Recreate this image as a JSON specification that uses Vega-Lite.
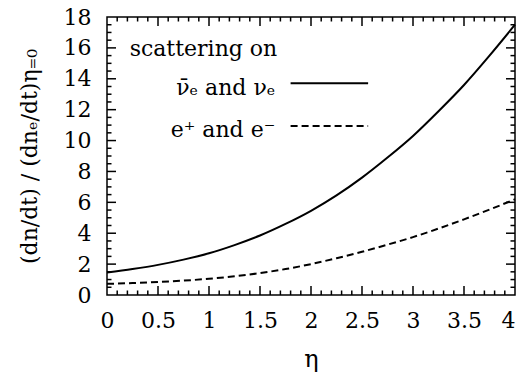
{
  "$schema": "https://vega.github.io/schema/vega-lite/v6.json",
  "width": 408,
  "height": 278,
  "autosize": "none",
  "padding": {"left": 107, "top": 17, "right": 5, "bottom": 89},
  "background": "white",
  "config": {
    "view": {"stroke": "black", "strokeWidth": 1.5},
    "axis": {"grid": false, "domain": false}
  },
  "datasets": {
    "curves": [
      {"eta": 0.0, "val": 1.45, "series": "nu"},
      {"eta": 0.25, "val": 1.68, "series": "nu"},
      {"eta": 0.5, "val": 1.95, "series": "nu"},
      {"eta": 0.75, "val": 2.29, "series": "nu"},
      {"eta": 1.0, "val": 2.7, "series": "nu"},
      {"eta": 1.25, "val": 3.23, "series": "nu"},
      {"eta": 1.5, "val": 3.85, "series": "nu"},
      {"eta": 1.75, "val": 4.6, "series": "nu"},
      {"eta": 2.0, "val": 5.45, "series": "nu"},
      {"eta": 2.25, "val": 6.45, "series": "nu"},
      {"eta": 2.5, "val": 7.6, "series": "nu"},
      {"eta": 2.75, "val": 8.9, "series": "nu"},
      {"eta": 3.0, "val": 10.3, "series": "nu"},
      {"eta": 3.25, "val": 11.9, "series": "nu"},
      {"eta": 3.5, "val": 13.6, "series": "nu"},
      {"eta": 3.75, "val": 15.5, "series": "nu"},
      {"eta": 4.0, "val": 17.5, "series": "nu"},
      {"eta": 0.0, "val": 0.72, "series": "e"},
      {"eta": 0.25, "val": 0.77, "series": "e"},
      {"eta": 0.5, "val": 0.84, "series": "e"},
      {"eta": 0.75, "val": 0.93, "series": "e"},
      {"eta": 1.0, "val": 1.05, "series": "e"},
      {"eta": 1.25, "val": 1.21, "series": "e"},
      {"eta": 1.5, "val": 1.42, "series": "e"},
      {"eta": 1.75, "val": 1.68, "series": "e"},
      {"eta": 2.0, "val": 2.0, "series": "e"},
      {"eta": 2.25, "val": 2.38, "series": "e"},
      {"eta": 2.5, "val": 2.8, "series": "e"},
      {"eta": 2.75, "val": 3.26, "series": "e"},
      {"eta": 3.0, "val": 3.75, "series": "e"},
      {"eta": 3.25, "val": 4.3, "series": "e"},
      {"eta": 3.5, "val": 4.9, "series": "e"},
      {"eta": 3.75, "val": 5.53, "series": "e"},
      {"eta": 4.0, "val": 6.2, "series": "e"}
    ]
  },
  "resolve": {"axis": {"x": "independent", "y": "independent"}},
  "layer": [
    {
      "data": {"name": "curves"},
      "transform": [{"filter": "datum.series === 'nu'"}],
      "mark": {"type": "line", "color": "black", "strokeWidth": 2, "interpolate": "monotone"},
      "encoding": {
        "x": {
          "field": "eta", "type": "quantitative",
          "scale": {"domain": [0, 4], "nice": false, "zero": false},
          "axis": {"orient": "bottom", "values": [0, 0.5, 1, 1.5, 2, 2.5, 3, 3.5, 4], "format": "~g",
                   "ticks": false, "labelFont": "DejaVu Serif", "labelFontSize": 22, "labelColor": "black",
                   "labelAlign": {"condition": {"test": "datum.value === 4", "value": "right"}, "value": "center"},
                   "labelPadding": 15, "labelFlush": false, "labelOverlap": false,
                   "title": "η", "titleFont": "DejaVu Serif", "titleFontSize": 24, "titleFontWeight": "normal",
                   "titleColor": "black", "titlePadding": 16}
        },
        "y": {
          "field": "val", "type": "quantitative",
          "scale": {"domain": [0, 18], "nice": false, "zero": false},
          "axis": {"orient": "left", "values": [0, 2, 4, 6, 8, 10, 12, 14, 16, 18],
                   "ticks": false, "labelFont": "DejaVu Serif", "labelFontSize": 22, "labelColor": "black",
                   "labelPadding": 16, "labelFlush": false, "labelOverlap": false,
                   "title": "(dn/dt) / (dnₑ/dt)η₌₀", "titleFont": "DejaVu Serif", "titleFontSize": 22,
                   "titleFontWeight": "normal", "titleColor": "black", "titlePadding": 22}
        }
      }
    },
    {
      "data": {"name": "curves"},
      "transform": [{"filter": "datum.series === 'e'"}],
      "mark": {"type": "line", "color": "black", "strokeWidth": 2, "strokeDash": [7, 4], "interpolate": "monotone"},
      "encoding": {
        "x": {"field": "eta", "type": "quantitative", "axis": null},
        "y": {"field": "val", "type": "quantitative", "axis": null}
      }
    },
    {
      "data": {"values": [{"eta": 0.5}, {"eta": 1}, {"eta": 1.5}, {"eta": 2}, {"eta": 2.5}, {"eta": 3}, {"eta": 3.5}]},
      "layer": [
        {"mark": {"type": "tick", "orient": "vertical", "color": "black", "opacity": 1, "size": 9, "thickness": 1.5, "yOffset": -4.5},
         "encoding": {"x": {"field": "eta", "type": "quantitative", "axis": null}, "y": {"datum": 0, "axis": null}}},
        {"mark": {"type": "tick", "orient": "vertical", "color": "black", "opacity": 1, "size": 9, "thickness": 1.5, "yOffset": 4.5},
         "encoding": {"x": {"field": "eta", "type": "quantitative", "axis": null}, "y": {"datum": 18, "axis": null}}}
      ]
    },
    {
      "data": {"values": [{"eta": 0.1}, {"eta": 0.2}, {"eta": 0.3}, {"eta": 0.4}, {"eta": 0.6}, {"eta": 0.7}, {"eta": 0.8}, {"eta": 0.9},
                          {"eta": 1.1}, {"eta": 1.2}, {"eta": 1.3}, {"eta": 1.4}, {"eta": 1.6}, {"eta": 1.7}, {"eta": 1.8}, {"eta": 1.9},
                          {"eta": 2.1}, {"eta": 2.2}, {"eta": 2.3}, {"eta": 2.4}, {"eta": 2.6}, {"eta": 2.7}, {"eta": 2.8}, {"eta": 2.9},
                          {"eta": 3.1}, {"eta": 3.2}, {"eta": 3.3}, {"eta": 3.4}, {"eta": 3.6}, {"eta": 3.7}, {"eta": 3.8}, {"eta": 3.9}]},
      "layer": [
        {"mark": {"type": "tick", "orient": "vertical", "color": "black", "opacity": 1, "size": 4.5, "thickness": 1.5, "yOffset": -2.25},
         "encoding": {"x": {"field": "eta", "type": "quantitative", "axis": null}, "y": {"datum": 0, "axis": null}}},
        {"mark": {"type": "tick", "orient": "vertical", "color": "black", "opacity": 1, "size": 4.5, "thickness": 1.5, "yOffset": 2.25},
         "encoding": {"x": {"field": "eta", "type": "quantitative", "axis": null}, "y": {"datum": 18, "axis": null}}}
      ]
    },
    {
      "data": {"values": [{"val": 2}, {"val": 4}, {"val": 6}, {"val": 8}, {"val": 10}, {"val": 12}, {"val": 14}, {"val": 16}]},
      "layer": [
        {"mark": {"type": "tick", "orient": "horizontal", "color": "black", "opacity": 1, "size": 9, "thickness": 1.5, "xOffset": 4.5},
         "encoding": {"y": {"field": "val", "type": "quantitative", "axis": null}, "x": {"datum": 0, "axis": null}}},
        {"mark": {"type": "tick", "orient": "horizontal", "color": "black", "opacity": 1, "size": 9, "thickness": 1.5, "xOffset": -4.5},
         "encoding": {"y": {"field": "val", "type": "quantitative", "axis": null}, "x": {"datum": 4, "axis": null}}}
      ]
    },
    {
      "data": {"values": [{"val": 0.5}, {"val": 1}, {"val": 1.5}, {"val": 2.5}, {"val": 3}, {"val": 3.5}, {"val": 4.5}, {"val": 5}, {"val": 5.5},
                          {"val": 6.5}, {"val": 7}, {"val": 7.5}, {"val": 8.5}, {"val": 9}, {"val": 9.5}, {"val": 10.5}, {"val": 11}, {"val": 11.5},
                          {"val": 12.5}, {"val": 13}, {"val": 13.5}, {"val": 14.5}, {"val": 15}, {"val": 15.5}, {"val": 16.5}, {"val": 17}, {"val": 17.5}]},
      "layer": [
        {"mark": {"type": "tick", "orient": "horizontal", "color": "black", "opacity": 1, "size": 4.5, "thickness": 1.5, "xOffset": 2.25},
         "encoding": {"y": {"field": "val", "type": "quantitative", "axis": null}, "x": {"datum": 0, "axis": null}}},
        {"mark": {"type": "tick", "orient": "horizontal", "color": "black", "opacity": 1, "size": 4.5, "thickness": 1.5, "xOffset": -2.25},
         "encoding": {"y": {"field": "val", "type": "quantitative", "axis": null}, "x": {"datum": 4, "axis": null}}}
      ]
    },
    {
      "data": {"values": [{}]},
      "mark": {"type": "rule", "color": "black", "strokeWidth": 2},
      "encoding": {"x": {"datum": 1.8, "axis": null}, "x2": {"datum": 2.56}, "y": {"datum": 13.71, "axis": null}}
    },
    {
      "data": {"values": [{}]},
      "mark": {"type": "rule", "color": "black", "strokeWidth": 2, "strokeDash": [7, 4]},
      "encoding": {"x": {"datum": 1.8, "axis": null}, "x2": {"datum": 2.56}, "y": {"datum": 10.94, "axis": null}}
    },
    {
      "data": {"values": [{}]},
      "mark": {"type": "text", "align": "left", "baseline": "alphabetic", "font": "DejaVu Serif", "fontSize": 22, "color": "black"},
      "encoding": {"x": {"datum": 0.222, "axis": null}, "y": {"datum": 15.49, "axis": null}, "text": {"value": "scattering on"}}
    },
    {
      "data": {"values": [{}]},
      "mark": {"type": "text", "align": "right", "baseline": "alphabetic", "font": "DejaVu Serif", "fontSize": 22, "color": "black"},
      "encoding": {"x": {"datum": 1.65, "axis": null}, "y": {"datum": 12.95, "axis": null}, "text": {"value": "ν̄ₑ and νₑ"}}
    },
    {
      "data": {"values": [{}]},
      "mark": {"type": "text", "align": "right", "baseline": "alphabetic", "font": "DejaVu Serif", "fontSize": 22, "color": "black"},
      "encoding": {"x": {"datum": 1.65, "axis": null}, "y": {"datum": 10.25, "axis": null}, "text": {"value": "e⁺ and e⁻"}}
    }
  ]
}
